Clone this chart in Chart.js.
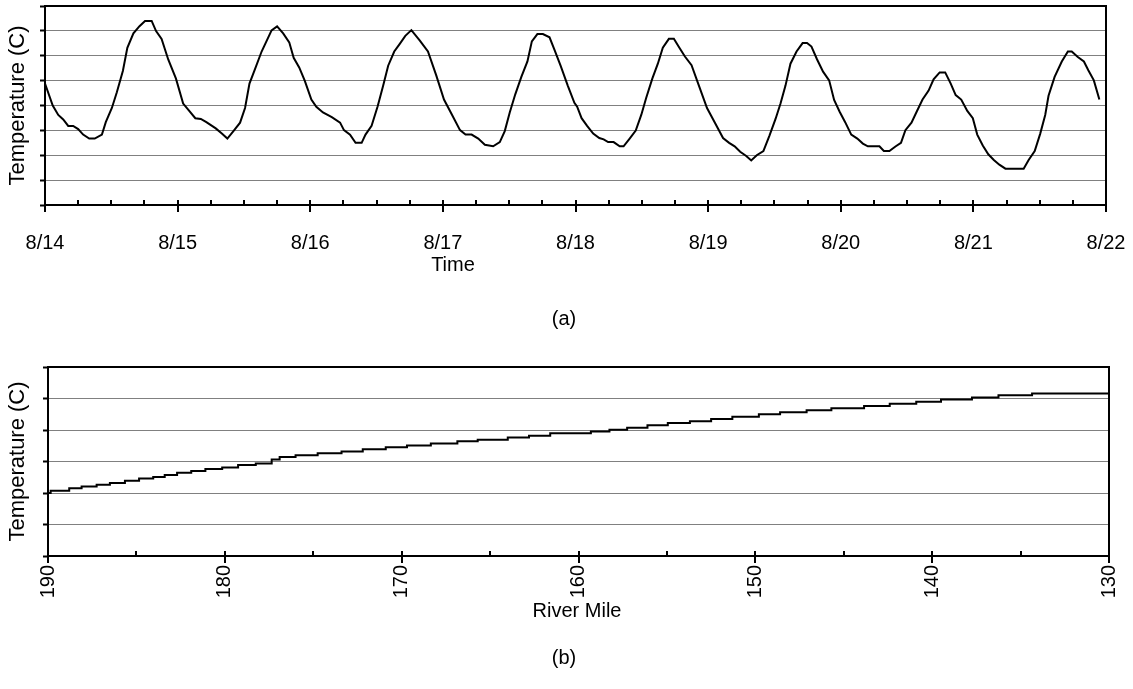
<!DOCTYPE html>
<html>
<head>
<meta charset="utf-8">
<script src="https://cdn.jsdelivr.net/npm/chart.js@4.4.1/dist/chart.umd.min.js"></script>
<style>
  html, body { margin: 0; padding: 0; background: #fff; }
  body { width: 1133px; height: 689px; position: relative; overflow: hidden; font-family: "Liberation Sans", Arial, sans-serif; }
  canvas { position: absolute; left: 0; }
  .lbl { position: absolute; transform: translate(-50%, -50%); font-size: 20px; color: #000; white-space: nowrap; }
</style>
</head>
<body>
<canvas id="timeChart" width="1133" height="280" style="top:0"></canvas>
<canvas id="mileChart" width="1133" height="290" style="top:340px"></canvas>
<div class="lbl" style="left:453px; top:264px">Time</div>
<div class="lbl" style="left:564px; top:318px">(a)</div>
<div class="lbl" style="left:577px; top:610px">River Mile</div>
<div class="lbl" style="left:564px; top:657px">(b)</div>
<script>
// (a) temperature over time, hours since 8/14 00:00
const dayLabels = ["8/14", "8/15", "8/16", "8/17", "8/18", "8/19", "8/20", "8/21", "8/22"]
const hours = [
  0, 1.4, 2.4, 3.3, 4.2, 5.1, 6.0, 6.9, 8.0, 9.0, 10.3, 11.0, 12.1, 13.0, 14.1, 14.9, 16.0, 17.1, 18.1, 19.3,
  20.1, 21.1, 22.3, 23.7, 25.0, 26.1, 27.2, 28.2, 29.2, 30.9, 32.0, 33.0, 34.1, 35.3, 36.2, 37.0, 38.0, 39.2,
  41.0, 42.0, 43.1, 44.2, 45.0, 46.0, 47.0, 48.2, 49.1, 50.3, 51.9, 53.4, 54.1, 55.2, 56.2, 57.3, 58.0, 59.1,
  60.2, 61.2, 62.1, 63.2, 64.2, 65.2, 66.3, 67.8, 69.3, 70.8, 72.2, 73.6, 75.1, 76.1, 77.2, 78.4, 79.6, 81.1,
  82.3, 83.2, 84.1, 85.1, 86.2, 87.3, 88.1, 89.1, 90.1, 91.3, 92.2, 93.3, 94.6, 95.8, 96.3, 97.1, 98.1, 99.2,
  100.3, 101.1, 101.9, 102.9, 104.0, 104.7, 105.8, 106.9, 107.9, 108.8, 109.9, 110.9, 111.8, 112.9, 113.8,
  114.8, 115.8, 117.0, 118.2, 119.8, 121.3, 122.7, 123.8, 124.8, 125.8, 126.9, 127.8, 128.8, 130.0, 131.1,
  132.2, 133.1, 134.0, 134.9, 136.0, 137.1, 137.9, 138.7, 139.7, 140.8, 141.9, 142.8, 143.8, 144.8, 145.9,
  147.0, 148.0, 148.9, 151.0, 151.8, 152.8, 153.9, 154.9, 155.7, 156.8, 157.8, 158.8, 159.9, 160.8, 161.9,
  162.9, 163.9, 164.8, 165.8, 166.9, 167.9, 168.7, 169.7, 170.7, 171.7, 172.7, 173.8, 177.1, 178.0, 179.1,
  180.1, 181.0, 181.6, 182.7, 184.0, 185.1, 185.8, 186.9, 188.0, 188.8, 189.8, 190.8
]
const tempByTime = [
  4.88, 4.0, 3.62, 3.44, 3.18, 3.18, 3.05, 2.83, 2.67, 2.67, 2.83, 3.33, 3.9, 4.53, 5.4, 6.32, 6.9, 7.19, 7.4, 7.4,
  6.99, 6.68, 5.85, 5.08, 4.08, 3.78, 3.49, 3.46, 3.33, 3.08, 2.87, 2.67, 2.97, 3.31, 3.9, 4.88, 5.46, 6.17,
  7.02, 7.18, 6.9, 6.54, 5.92, 5.53, 5.0, 4.24, 3.95, 3.72, 3.53, 3.31, 3.01, 2.83, 2.5, 2.5, 2.83, 3.18,
  3.97, 4.8, 5.6, 6.17, 6.48, 6.8, 7.03, 6.62, 6.17, 5.21, 4.24, 3.65, 3.01, 2.83, 2.83, 2.67, 2.42, 2.36,
  2.53, 2.97, 3.72, 4.45, 5.15, 5.77, 6.58, 6.87, 6.87, 6.74, 6.24, 5.6, 4.8, 4.11, 3.95, 3.49, 3.18, 2.87,
  2.69, 2.64, 2.53, 2.53, 2.36, 2.36, 2.67, 2.99, 3.62, 4.31, 5.08, 5.68, 6.32, 6.68, 6.68,
  6.32, 5.97, 5.62, 4.88, 3.9, 3.28, 2.69, 2.5, 2.36, 2.14, 1.97, 1.79, 2.0, 2.17, 2.79,
  3.46, 4.08, 4.8, 5.68, 6.17, 6.51, 6.51, 6.37, 5.86, 5.36, 5.01, 4.22, 3.75, 3.33, 2.83,
  2.67, 2.47, 2.36, 2.36, 2.17, 2.17, 2.35, 2.5, 3.01, 3.31, 3.78, 4.24, 4.6, 5.05, 5.33,
  5.33, 4.88, 4.42, 4.24, 3.78, 3.49, 2.83, 2.39, 2.04, 1.81, 1.62, 1.46, 1.46, 1.81, 2.17,
  2.87, 3.62, 4.39, 5.15, 5.77, 6.17, 6.17, 5.95, 5.77, 5.42, 5.01, 4.24
]

// (b) temperature along the river, each value holds until the next mile
const mileTicks = [190, 180, 170, 160, 150, 140, 130]
const miles = [
  190, 189.85, 188.8, 188.1, 187.25, 186.5, 185.65, 184.85, 184.05, 183.4, 182.7, 181.9, 181.1, 180.15,
  179.25, 178.25, 177.35, 176.9, 176.0, 174.75, 173.4, 172.2, 170.9, 169.7, 168.35, 166.85, 165.7, 164.0,
  162.8, 161.6, 159.3, 158.25, 157.25, 156.1, 154.95, 153.7, 152.5, 151.3, 149.8, 148.6, 147.1, 145.7,
  143.85, 142.4, 140.9, 139.5, 137.75, 136.25, 134.35, 132.85, 130
]
const tempByMile = [
  1.94, 2.0, 2.07, 2.15, 2.21, 2.26, 2.32, 2.39, 2.46, 2.51, 2.57, 2.64, 2.70, 2.76,
  2.81, 2.89, 2.94, 3.06, 3.14, 3.20, 3.26, 3.32, 3.39, 3.45, 3.51, 3.57, 3.64, 3.69,
  3.76, 3.82, 3.90, 3.95, 4.01, 4.07, 4.15, 4.22, 4.28, 4.35, 4.42, 4.50, 4.56, 4.63,
  4.69, 4.76, 4.83, 4.90, 4.97, 5.03, 5.10, 5.16, 5.16
]

const FONT = "'Liberation Sans', Arial, sans-serif"

// frame around the plot plus excel-style x tick marks (minor inside, major crossing)
const framePlugin = {
  id: "frame",
  afterDraw(chart, args, opts) {
    const { ctx, chartArea: a } = chart
    const xs = chart.scales.x
    ctx.save()
    ctx.strokeStyle = "#000"
    ctx.lineWidth = 2
    ctx.strokeRect(a.left, a.top, a.right - a.left, a.bottom - a.top)
    ctx.beginPath()
    xs.ticks.forEach(t => {
      const px = Math.round(xs.getPixelForValue(t.value))
      const major = opts.isMajor(t.value)
      ctx.moveTo(px, a.bottom - 5)
      ctx.lineTo(px, a.bottom + (major ? 7 : 0))
    })
    ctx.stroke()
    ctx.restore()
  }
}

function yAxis(max, width) {
  return {
    min: 0,
    max: max,
    ticks: { stepSize: 1, display: false },
    grid: { color: "#808080", lineWidth: 1, tickColor: "#000", tickWidth: 2, tickLength: 5 },
    border: { color: "#000", width: 2 },
    title: {
      display: true,
      text: "Temperature (C)",
      color: "#000",
      font: { family: FONT, size: 22 },
      padding: { top: 5, bottom: 0 }
    },
    afterFit: s => { s.width = width }
  }
}

// fixed axis height, and no extra room for overhanging end labels
function fitX(height) {
  return s => {
    s.height = height
    s.paddingLeft = 0
    s.paddingRight = 0
  }
}

new Chart(document.getElementById("timeChart"), {
  type: "line",
  data: {
    datasets: [{
      data: hours.map((h, i) => ({ x: h, y: tempByTime[i] })),
      borderColor: "#000",
      borderWidth: 2,
      pointRadius: 0,
      tension: 0
    }]
  },
  options: {
    responsive: false,
    animation: false,
    layout: { padding: { top: 6, right: 27, left: 0, bottom: 0 } },
    plugins: {
      legend: { display: false },
      tooltip: { enabled: false },
      frame: { isMajor: v => v % 24 === 0 }
    },
    scales: {
      x: {
        type: "linear",
        min: 0,
        max: 192,
        grid: { display: false, drawTicks: false },
        border: { color: "#000", width: 2 },
        ticks: {
          stepSize: 6,
          autoSkip: false,
          maxRotation: 0,
          padding: 26,
          color: "#000",
          font: { family: FONT, size: 20 },
          callback: v => (v % 24 === 0 ? dayLabels[v / 24] : "")
        },
        afterFit: fitX(75)
      },
      y: yAxis(8, 45)
    }
  },
  plugins: [framePlugin]
})

new Chart(document.getElementById("mileChart"), {
  type: "line",
  data: {
    datasets: [{
      data: miles.map((m, i) => ({ x: m, y: tempByMile[i] })),
      borderColor: "#000",
      borderWidth: 2,
      pointRadius: 0,
      stepped: "after"
    }]
  },
  options: {
    responsive: false,
    animation: false,
    layout: { padding: { top: 27, right: 24, left: 0, bottom: 0 } },
    plugins: {
      legend: { display: false },
      tooltip: { enabled: false },
      frame: { isMajor: v => mileTicks.includes(v) }
    },
    scales: {
      x: {
        type: "linear",
        min: 130,
        max: 190,
        reverse: true,
        grid: { display: false, drawTicks: false },
        border: { color: "#000", width: 2 },
        ticks: {
          stepSize: 5,
          autoSkip: false,
          minRotation: 90,
          maxRotation: 90,
          padding: 9,
          color: "#000",
          font: { family: FONT, size: 20 },
          callback: v => (mileTicks.includes(v) ? String(v) : "")
        },
        afterFit: fitX(74)
      },
      y: yAxis(6, 48)
    }
  },
  plugins: [framePlugin]
})
</script>
</body>
</html>
